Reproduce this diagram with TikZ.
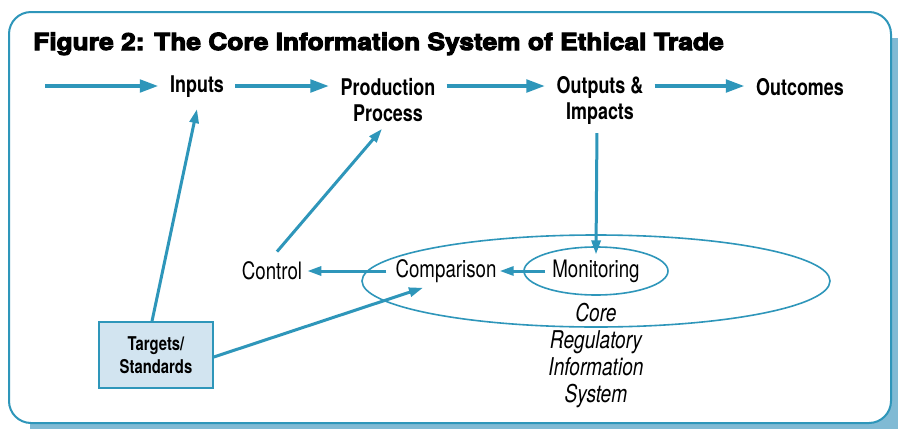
\documentclass[tikz,border=0pt]{standalone}
\usepackage{fontspec}
\setmainfont{TeX Gyre Heros}
\newfontfamily\cond{TeX Gyre Heros}[FakeStretch=0.78]
\newfontfamily\heavy{TeX Gyre Heros}[FakeStretch=1.12, BoldFeatures={FakeBold=4.5}]
\usepackage{tikz}
\usetikzlibrary{arrows.meta}

\definecolor{tradeblue}{RGB}{46,150,186}
\definecolor{shadowblue}{RGB}{128,186,212}
\definecolor{boxfill}{RGB}{210,228,240}

\begin{document}
\begin{tikzpicture}[x=1pt,y=-1pt,
    flow/.style={line width=4.5pt, draw=tradeblue, -{Triangle[length=19pt,width=12pt]}},
    link/.style={line width=3pt, draw=tradeblue, -{Triangle[length=14pt,width=9pt]}},
    ring/.style={draw=tradeblue, line width=1.6pt},
    stage/.style={font=\cond\bfseries\fontsize{23}{26}\selectfont, align=center, inner xsep=11pt, inner ysep=3pt},
    loopnode/.style={font=\cond\fontsize{24}{26}\selectfont, inner sep=3pt},
    target/.style={draw=tradeblue, line width=1.6pt, fill=boxfill, align=center,
        minimum width=114pt, minimum height=66pt,
        font=\cond\bfseries\fontsize{19}{23}\selectfont}]
    \useasboundingbox (0,0) rectangle (898,429);
    % panel with its shadow
    \fill[shadowblue] (30,38) rectangle (898,429);
    \draw[tradeblue, line width=2pt, fill=white, rounded corners=22pt] (9,12) rectangle (891,423);
    \node[anchor=base west, inner sep=0pt, font=\heavy\bfseries\fontsize{23.5}{28}\selectfont]
        (title) at (33,50) {Figure 2: The Core Information System of Ethical Trade};

    % main chain
    \coordinate (row) at (0,86);
    \coordinate (feed) at (45,86);
    \node[stage] (inputs) at (197,87) {Inputs};
    \node[stage] (prod) at (388,100) {Production\\Process};
    \node[stage] (outputs) at (600,100) {Outputs \&\\Impacts};
    \node[stage] (outcomes) at (800,87) {Outcomes};
    \draw[flow] (feed) -- (inputs.west |- row);
    \foreach \a/\b in {inputs/prod, prod/outputs, outputs/outcomes}
        \draw[flow] (\a.east |- row) -- (\b.west |- row);

    % regulatory loop
    \draw[ring] (596,281) ellipse (234 and 46);
    \draw[ring] (596,271) ellipse (72 and 24);
    \node[loopnode] (mon) at (596,271) {Monitoring};
    \node[loopnode] (cmp) at (446,271) {Comparison};
    \node[loopnode] (ctrl) at (272,271) {Control};
    \node[font=\cond\itshape\fontsize{24.5}{27}\selectfont, align=center] (core) at (596,356)
        {Core\\Regulatory\\Information\\System};
    \node[target] (tgt) at (156,355) {Targets/\\Standards};

    \draw[link, shorten <=6pt] ([xshift=-3pt]outputs.south) -- ([yshift=2pt]mon.north);
    \draw[link, shorten <=4pt] (mon) -- (cmp);
    \draw[link, shorten <=6pt, shorten >=2pt] (cmp) -- (ctrl);
    \draw[link] ([xshift=5pt,yshift=7pt]ctrl.north) -- ([xshift=-6pt,yshift=-4pt]prod.south);
    \draw[link] ([xshift=-4pt]tgt.north) -- ([yshift=-8pt]inputs.south);
    \draw[link] ([yshift=-2pt]tgt.east) -- ([xshift=-23pt,yshift=-2pt]cmp.south);
\end{tikzpicture}
\end{document}
